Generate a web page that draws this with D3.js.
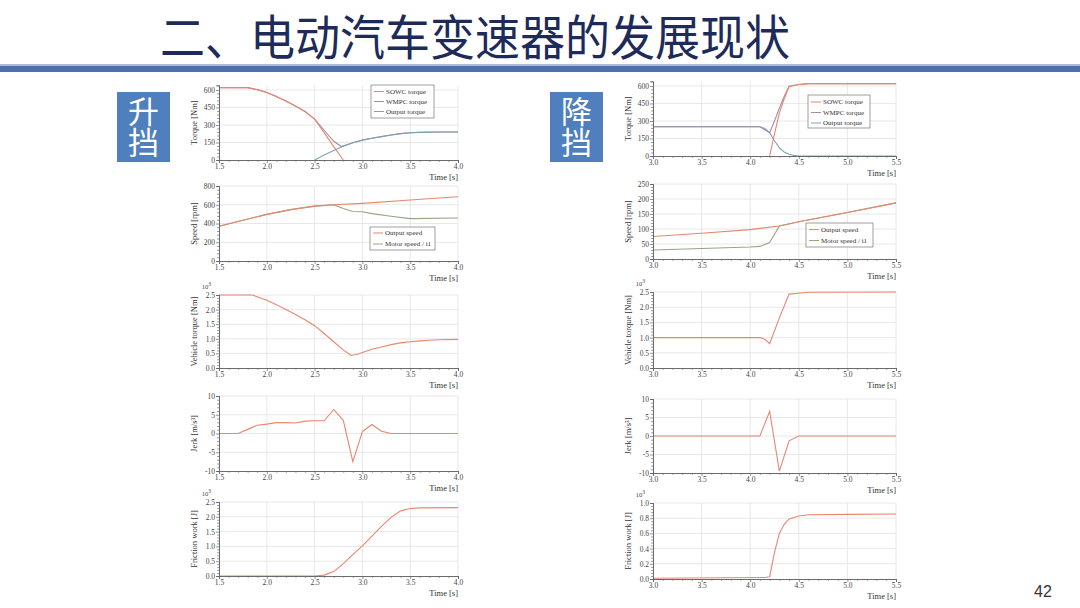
<!DOCTYPE html>
<html><head><meta charset="utf-8">
<script src="https://cdn.jsdelivr.net/npm/d3@7"></script>
<style>body{margin:0;background:#fff} svg{display:block}</style>
</head><body>
<svg id="c" width="1080" height="608"></svg>
<script>
// ---------------- DATA ----------------
const titleText = "二、电动汽车变速器的发展现状";
const leftTag = "升挡";
const rightTag = "降挡";
const pageNo = "42";

const upXTicks = [1.5, 2.0, 2.5, 3.0, 3.5, 4.0];
const dnXTicks = [3.0, 3.5, 4.0, 4.5, 5.0, 5.5];
const torqueTicks = [0, 150, 300, 450, 600];
const upSpeedTicks = [0, 200, 400, 600, 800];
const dnSpeedTicks = [0, 50, 100, 150, 200, 250];
const vehTicks = [0, 0.5, 1.0, 1.5, 2.0, 2.5];
const jerkTicks = [-10, -5, 0, 5, 10];
const upFricTicks = [0, 0.5, 1.0, 1.5, 2.0, 2.5];
const dnFricTicks = [0, 0.2, 0.4, 0.6, 0.8, 1.0];

const torqueLegend = ["SOWC torque", "WMPC torque", "Output torque"];
const speedLegend = ["Output speed", "Motor speed / i1"];

// upshift torque
const upSOWC_t = [1.5, 1.8, 1.9, 2.0, 2.1, 2.2, 2.3, 2.4, 2.5, 2.6, 2.7, 2.8];
const upSOWC_v = [620, 620, 603, 578, 545, 505, 463, 415, 350, 235, 115, 0];
const upWMPC_t = [1.5, 1.8, 1.9, 2.0, 2.1, 2.2, 2.3, 2.4, 2.5, 2.6, 2.7, 2.78, 2.9, 3.0, 3.1, 3.2, 3.3, 3.4, 3.5, 3.6, 3.8, 4.0];
const upWMPC_v = [620, 620, 603, 578, 545, 505, 463, 415, 350, 255, 160, 115, 148, 170, 186, 200, 214, 226, 233, 237, 240, 240];
const upOut_t = [2.5, 2.6, 2.7, 2.78, 2.9, 3.0, 3.1, 3.2, 3.3, 3.4, 3.5, 3.6, 3.8, 4.0];
const upOut_v = [0, 42, 82, 112, 148, 170, 186, 200, 214, 226, 233, 237, 240, 240];
// upshift speed
const upOutSpd_t = [1.5, 1.75, 2.0, 2.25, 2.5, 2.7, 3.0, 3.5, 4.0];
const upOutSpd_v = [370, 435, 497, 548, 585, 600, 615, 650, 685];
const upMotSpd_t = [1.5, 1.75, 2.0, 2.25, 2.5, 2.7, 2.8, 2.9, 3.0, 3.1, 3.3, 3.5, 4.0];
const upMotSpd_v = [370, 435, 497, 548, 585, 600, 560, 528, 525, 505, 478, 452, 458];
// upshift vehicle torque (x10^3)
const upVeh_t = [1.5, 1.85, 2.0, 2.1, 2.2, 2.3, 2.4, 2.5, 2.6, 2.7, 2.8, 2.88, 2.95, 3.0, 3.1, 3.2, 3.3, 3.4, 3.5, 3.6, 3.7, 3.8, 4.0];
const upVeh_v = [2.5, 2.5, 2.32, 2.17, 2.0, 1.83, 1.65, 1.45, 1.18, 0.9, 0.62, 0.43, 0.47, 0.53, 0.64, 0.72, 0.8, 0.86, 0.9, 0.93, 0.95, 0.97, 0.98];
// upshift jerk
const upJerk_t = [1.5, 1.7, 1.8, 1.9, 2.0, 2.1, 2.2, 2.3, 2.4, 2.5, 2.6, 2.7, 2.8, 2.9, 3.0, 3.1, 3.2, 3.3, 3.5, 4.0];
const upJerk_v = [0, 0, 1.1, 2.2, 2.5, 2.9, 2.9, 2.8, 3.3, 3.4, 3.4, 6.4, 3.5, -7.5, 0.5, 2.4, 0.6, 0, 0, 0];
// upshift friction work (x10^3)
const upFric_t = [1.5, 2.5, 2.6, 2.7, 2.8, 2.9, 3.0, 3.1, 3.2, 3.3, 3.4, 3.5, 3.6, 4.0];
const upFric_v = [0, 0, 0.03, 0.15, 0.42, 0.72, 1.02, 1.35, 1.68, 1.98, 2.2, 2.28, 2.3, 2.31];

// downshift torque
const dnSOWC_t = [4.2, 4.25, 4.3, 4.35, 4.4, 4.5, 4.6, 5.5];
const dnSOWC_v = [0, 190, 370, 490, 595, 612, 620, 620];
const dnWMPC_t = [3.0, 4.1, 4.2, 4.25, 4.3, 4.35, 4.4, 4.5, 4.6, 5.5];
const dnWMPC_v = [250, 250, 200, 300, 410, 510, 598, 612, 620, 620];
const dnOut_t = [3.0, 4.1, 4.15, 4.2, 4.25, 4.3, 4.35, 4.4, 4.45, 4.5, 5.5];
const dnOut_v = [250, 250, 235, 200, 130, 70, 35, 15, 5, 0, 0];
// downshift speed
const dnOutSpd_t = [3.0, 3.5, 4.0, 4.3, 4.5, 5.0, 5.5];
const dnOutSpd_v = [75, 86, 98, 110, 124, 155, 187];
const dnMotSpd_t = [3.0, 3.5, 4.0, 4.1, 4.2, 4.3, 4.5, 5.0, 5.5];
const dnMotSpd_v = [30, 35, 40, 42, 55, 110, 124, 155, 187];
// downshift vehicle torque (x10^3)
const dnVeh_t = [3.0, 4.1, 4.15, 4.2, 4.3, 4.4, 4.5, 4.6, 5.5];
const dnVeh_v = [1.0, 1.0, 0.95, 0.8, 1.65, 2.43, 2.46, 2.49, 2.5];
// downshift jerk
const dnJerk_t = [3.0, 4.1, 4.2, 4.3, 4.4, 4.5, 5.5];
const dnJerk_v = [0, 0, 6.7, -9.5, -1.3, 0, 0];
// downshift friction work (x10^3)
const dnFric_t = [3.0, 4.15, 4.2, 4.25, 4.3, 4.35, 4.4, 4.5, 4.6, 5.0, 5.5];
const dnFric_v = [0.01, 0.02, 0.03, 0.35, 0.6, 0.72, 0.79, 0.83, 0.845, 0.85, 0.855];

// ---------------- DRAW ----------------
const svg = d3.select("#c");
const RED = "#e8866f", PUR = "#a48aa8", TEAL = "#7fa3ad", GRN = "#93a882";
const SERIF = "'Liberation Serif','DejaVu Serif',serif";
const zip = (t, v) => t.map((d, i) => [d, v[i]]);

// title
svg.append("text").attr("x", 160).attr("y", 34).attr("dominant-baseline", "central")
  .attr("font-family", "'Noto Sans CJK SC',sans-serif").attr("font-size", 48)
  .attr("textLength", 630).attr("lengthAdjust", "spacingAndGlyphs")
  .attr("fill", "#1d2a5a").text(titleText);
svg.append("rect").attr("x", 0).attr("y", 64).attr("width", 1080).attr("height", 2).attr("fill", "#a9bcdc");
svg.append("rect").attr("x", 0).attr("y", 66).attr("width", 1080).attr("height", 6).attr("fill", "#4d71ad");

// tags (vertical text)
function tag(x, txt) {
  svg.append("rect").attr("x", x).attr("y", 92).attr("width", 53).attr("height", 70).attr("fill", "#4f7fbd");
  svg.append("text").attr("x", x + 26.5).attr("y", 127).attr("text-anchor", "middle")
    .style("writing-mode", "vertical-rl")
    .attr("font-family", "'Noto Sans CJK SC',sans-serif").attr("font-size", 31).attr("fill", "#fff").text(txt);
}
tag(117, leftTag);
tag(550, rightTag);

svg.append("text").attr("x", 1043).attr("y", 591).attr("text-anchor", "middle").attr("dominant-baseline", "central")
  .attr("font-family", "Arial, 'Liberation Sans', sans-serif").attr("font-size", 16).attr("fill", "#333").text(pageNo);

function minorVals(ticks, n) {
  const out = [];
  for (let i = 0; i < ticks.length - 1; i++) {
    const a = ticks[i], b = ticks[i + 1];
    for (let k = 1; k < n; k++) out.push(a + (b - a) * k / n);
  }
  return out;
}

function panel(p) {
  const g = svg.append("g");
  const x = d3.scaleLinear().domain(p.xd).range([p.x0, p.x1]);
  const y = d3.scaleLinear().domain(p.yd).range([p.y0, p.y1]);
  const yTopPx = p.y1;
  // grid
  g.selectAll(".vg").data(p.xt.slice(1)).join("line")
    .attr("x1", d => x(d)).attr("x2", d => x(d)).attr("y1", p.y0).attr("y2", yTopPx)
    .attr("stroke", "#e2e2e2").attr("stroke-width", 0.8);
  g.selectAll(".hg").data(p.yt.slice(1)).join("line")
    .attr("x1", p.x0).attr("x2", p.x1).attr("y1", d => y(d)).attr("y2", d => y(d))
    .attr("stroke", "#e2e2e2").attr("stroke-width", 0.8);
  // series
  const line = d3.line().x(d => x(d[0])).y(d => y(d[1]));
  p.series.forEach(s => g.append("path").datum(zip(s.t, s.v)).attr("d", line)
    .attr("fill", "none").attr("stroke", s.c).attr("stroke-width", 1.1));
  // axes
  const ax = g.append("g").attr("transform", `translate(0,${p.y0})`)
    .call(d3.axisBottom(x).tickValues(p.xt).tickSize(3).tickPadding(1).tickFormat(d3.format(".1f")));
  const axm = g.append("g").attr("transform", `translate(0,${p.y0})`)
    .call(d3.axisBottom(x).tickValues(minorVals(p.xt, 5)).tickSize(1.8).tickFormat(""));
  const ay = g.append("g").attr("transform", `translate(${p.x0},0)`)
    .call(d3.axisLeft(y).tickValues(p.yt).tickSize(3).tickPadding(1).tickFormat(p.yf));
  const aym = g.append("g").attr("transform", `translate(${p.x0},0)`)
    .call(d3.axisLeft(y).tickValues(minorVals(p.yt, 5)).tickSize(1.8).tickFormat(""));
  [ax, axm, ay, aym].forEach(a => {
    a.select(".domain").attr("stroke", "#666").attr("stroke-width", 0.8);
    a.selectAll(".tick line").attr("stroke", "#666").attr("stroke-width", 0.7);
    a.selectAll("text").attr("font-family", SERIF).attr("font-size", 7.5).attr("fill", "#444");
  });
  // axis titles
  g.append("text").attr("x", p.x1).attr("y", p.y0 + 20).attr("text-anchor", "end")
    .attr("font-family", SERIF).attr("font-size", 8.5).attr("fill", "#333").text("Time [s]");
  g.append("text").attr("transform", `translate(${p.x0 - 22},${(p.y0 + yTopPx) / 2}) rotate(-90)`)
    .attr("text-anchor", "middle").attr("font-family", SERIF).attr("font-size", 8.5).attr("fill", "#333").text(p.yl);
  if (p.exp) {
    const t = g.append("text").attr("x", p.x0 - 8).attr("y", yTopPx - 6).attr("text-anchor", "end")
      .attr("font-family", SERIF).attr("font-size", 6.5).attr("fill", "#444");
    t.append("tspan").text("10");
    t.append("tspan").attr("dy", -3).attr("font-size", 5.5).text("3");
  }
  if (p.legend) {
    const L = p.legend;
    g.append("rect").attr("x", L.x).attr("y", L.y).attr("width", L.w).attr("height", L.h)
      .attr("fill", "#fff").attr("stroke", "#777").attr("stroke-width", 0.7);
    L.items.forEach((it, i) => {
      const yy = L.y + L.dy0 + i * L.dy;
      g.append("line").attr("x1", L.x + 3).attr("x2", L.x + 13).attr("y1", yy).attr("y2", yy)
        .attr("stroke", it.c).attr("stroke-width", 1);
      g.append("text").attr("x", L.x + 15).attr("y", yy).attr("dominant-baseline", "central")
        .attr("font-family", SERIF).attr("font-size", 7).attr("fill", "#333").text(it.n);
    });
  }
}

const fInt = d => String(d);
const f1 = d3.format(".1f");
const LX0 = 219, LX1 = 458, RX0 = 653, RX1 = 896;

// left column (upshift)
panel({x0: LX0, x1: LX1, xd: [1.5, 4.0], xt: upXTicks, y0: 160, y1: 85.3, yd: [0, 640], yt: torqueTicks, yf: fInt,
  yl: "Torque [Nm]",
  series: [{t: upWMPC_t, v: upWMPC_v, c: PUR}, {t: upSOWC_t, v: upSOWC_v, c: RED}, {t: upOut_t, v: upOut_v, c: TEAL}],
  legend: {x: 371, y: 85, w: 63, h: 33, dy0: 6.5, dy: 10, items: [{n: torqueLegend[0], c: RED}, {n: torqueLegend[1], c: PUR}, {n: torqueLegend[2], c: TEAL}]}});
panel({x0: LX0, x1: LX1, xd: [1.5, 4.0], xt: upXTicks, y0: 261, y1: 186, yd: [0, 800], yt: upSpeedTicks, yf: fInt,
  yl: "Speed [rpm]",
  series: [{t: upMotSpd_t, v: upMotSpd_v, c: GRN}, {t: upOutSpd_t, v: upOutSpd_v, c: RED}],
  legend: {x: 370, y: 227, w: 65, h: 23, dy0: 6, dy: 11, items: [{n: speedLegend[0], c: RED}, {n: speedLegend[1], c: GRN}]}});
panel({x0: LX0, x1: LX1, xd: [1.5, 4.0], xt: upXTicks, y0: 368, y1: 295, yd: [0, 2.5], yt: vehTicks, yf: f1,
  yl: "Vehicle torque [Nm]", exp: true, series: [{t: upVeh_t, v: upVeh_v, c: RED}]});
panel({x0: LX0, x1: LX1, xd: [1.5, 4.0], xt: upXTicks, y0: 471, y1: 396, yd: [-10, 10], yt: jerkTicks, yf: fInt,
  yl: "Jerk [m/s³]", series: [{t: upJerk_t, v: upJerk_v, c: RED}]});
panel({x0: LX0, x1: LX1, xd: [1.5, 4.0], xt: upXTicks, y0: 576, y1: 502, yd: [0, 2.5], yt: upFricTicks, yf: f1,
  yl: "Friction work [J]", exp: true, series: [{t: upFric_t, v: upFric_v, c: RED}]});

// right column (downshift)
panel({x0: RX0, x1: RX1, xd: [3.0, 5.5], xt: dnXTicks, y0: 156, y1: 81.3, yd: [0, 640], yt: torqueTicks, yf: fInt,
  yl: "Torque [Nm]",
  series: [{t: dnOut_t, v: dnOut_v, c: TEAL}, {t: dnWMPC_t, v: dnWMPC_v, c: PUR}, {t: dnSOWC_t, v: dnSOWC_v, c: RED}],
  legend: {x: 808, y: 95, w: 62, h: 33, dy0: 7, dy: 10.5, items: [{n: torqueLegend[0], c: RED}, {n: torqueLegend[1], c: PUR}, {n: torqueLegend[2], c: TEAL}]}});
panel({x0: RX0, x1: RX1, xd: [3.0, 5.5], xt: dnXTicks, y0: 259, y1: 184, yd: [0, 250], yt: dnSpeedTicks, yf: fInt,
  yl: "Speed [rpm]",
  series: [{t: dnMotSpd_t, v: dnMotSpd_v, c: GRN}, {t: dnOutSpd_t, v: dnOutSpd_v, c: RED}],
  legend: {x: 806, y: 223, w: 67, h: 24, dy0: 6.5, dy: 11, items: [{n: speedLegend[0], c: RED}, {n: speedLegend[1], c: GRN}]}});
panel({x0: RX0, x1: RX1, xd: [3.0, 5.5], xt: dnXTicks, y0: 368, y1: 292, yd: [0, 2.5], yt: vehTicks, yf: f1,
  yl: "Vehicle torque [Nm]", exp: true, series: [{t: dnVeh_t, v: dnVeh_v, c: RED}]});
panel({x0: RX0, x1: RX1, xd: [3.0, 5.5], xt: dnXTicks, y0: 473, y1: 399, yd: [-10, 10], yt: jerkTicks, yf: fInt,
  yl: "Jerk [m/s³]", series: [{t: dnJerk_t, v: dnJerk_v, c: RED}]});
panel({x0: RX0, x1: RX1, xd: [3.0, 5.5], xt: dnXTicks, y0: 579, y1: 503, yd: [0, 1.0], yt: dnFricTicks, yf: f1,
  yl: "Friction work [J]", exp: true, series: [{t: dnFric_t, v: dnFric_v, c: RED}]});
</script>
</body></html>
